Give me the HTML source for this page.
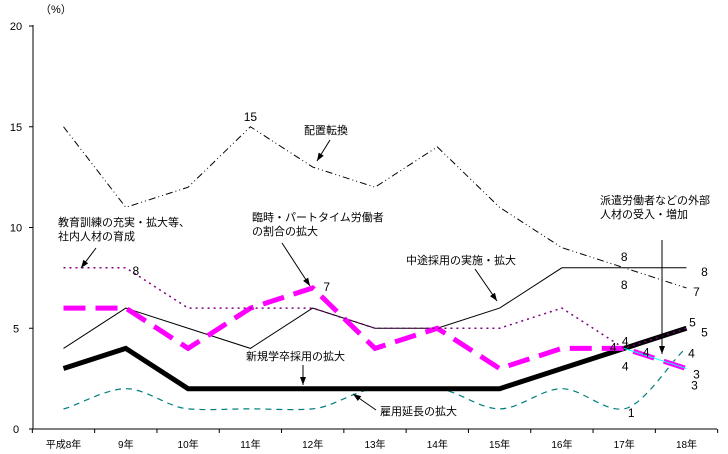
<!DOCTYPE html>
<html><head><meta charset="utf-8"><style>
body{margin:0;background:#fff}
svg{display:block;font-family:"Liberation Sans","Noto Sans CJK JP",sans-serif}
</style></head><body>
<svg id="c" width="728" height="454">
</svg>
<script>
const categories=["平成8年","9年","10年","11年","12年","13年","14年","15年","16年","17年","18年"];
const yTicks=[0,5,10,15,20];
const haichi=[15,11,12,15,13,12,14,11,9,8,7];
const shinki=[3,4,2,2,2,2,2,2,3,4,5];
const chuto=[4,6,5,4,6,5,5,6,8,8,8];
const rinji=[6,6,4,6,7,4,5,3,4,4,3];
const kyoiku=[8,8,6,6,6,5,5,5,6,4,5];
const koyo=[1,2,1,1,1,2,2,1,2,1,4];
const haken=[null,null,null,null,null,null,null,null,null,4,3];
const NS="http://www.w3.org/2000/svg";
const svg=document.getElementById('c');
const X=i=>63.5+i*62.3;
const Y=v=>429-v*20.15;
function el(t,a,p){const e=document.createElementNS(NS,t);for(const k in a)e.setAttribute(k,a[k]);(p||svg).appendChild(e);return e;}
function txt(x,y,s,size,anchor){const t=el('text',{x:x,y:y,'font-size':size||11,'text-anchor':anchor||'start',fill:'#000'});t.textContent=s;return t;}
const ax=el('g',{});


el('line',{x1:33,y1:25,x2:33,y2:429,stroke:'#000'},ax);
el('line',{x1:33,y1:429,x2:717,y2:429,stroke:'#000'},ax);
yTicks.forEach(v=>{el('line',{x1:29,y1:Y(v),x2:33,y2:Y(v),stroke:'#000'},ax);const t=txt(16,Y(v)+4,String(v),11,'middle');});
for(let i=0;i<=categories.length;i++){const x=X(i)-31.15;el('line',{x1:x,y1:429,x2:x,y2:433,stroke:'#000'},ax);}
categories.forEach((c,i)=>{const t=txt(X(i),448,c,10,'middle');});
const pu=txt(40,13,'（%）',11,'start');
function line(data,attrs,name,smooth){
  let pts=[];data.forEach((v,i)=>{if(v!=null)pts.push([X(i),Y(v)]);});
  let d;
  if(smooth){d='M'+pts[0];for(let i=0;i<pts.length-1;i++){const p0=pts[Math.max(0,i-1)],p1=pts[i],p2=pts[i+1],p3=pts[Math.min(pts.length-1,i+2)];const c1=[p1[0]+(p2[0]-p0[0])/6,p1[1]+(p2[1]-p0[1])/12],c2=[p2[0]-(p3[0]-p1[0])/6,p2[1]-(p3[1]-p1[1])/12];d+=' C'+c1+' '+c2+' '+p2;}}
  else d='M'+pts.map(p=>p.join(',')).join(' L');
  const p=el('path',Object.assign({d:d,fill:'none'},attrs));
  
  
}
line(haichi,{stroke:'#000','stroke-width':1,'stroke-dasharray':'7,3,1,3,1,3'},'series-haichi-tenkan');
line(chuto,{stroke:'#000','stroke-width':1},'series-chuto-saiyo');
line(koyo,{stroke:'#008080','stroke-width':1.2,'stroke-dasharray':'6,5'},'series-koyo-encho',true);
line(shinki,{stroke:'#000','stroke-width':5},'series-shinki-gakusotsu');
line(rinji,{stroke:'#ff00ff','stroke-width':5,'stroke-dasharray':'22,10'},'series-rinji-part');
line(kyoiku,{stroke:'#800080','stroke-width':1.5,'stroke-dasharray':'2,4'},'series-kyoiku-kunren');
line(haken,{stroke:'#00ffff','stroke-width':1},'series-haken');
const vl=[[X(1)+10,Y(8)+3,'8'],[X(3),Y(15)-10,'15'],[X(4)+14,Y(7)-1,'7'],[X(9),Y(8)-11,'8'],[X(9),Y(8)+17,'8'],[X(10)+18,Y(8)+4,'8'],[X(10)+10,Y(7)+4,'7'],
[X(10)+6,Y(5)-6,'5'],[X(10)+18,Y(5)+4,'5'],[X(9)-11,Y(4)-1,'4'],[X(9)+1,Y(4)-7,'4'],[X(9)+22,Y(4)+4,'4'],[X(9)+1,Y(4)+18,'4'],
[X(10)+5,Y(4)+5,'4'],[X(10)+10,Y(3)+6,'3'],[X(10)+8,Y(3)+17,'3'],[X(9)+7,Y(1)+4,'1']];
vl.forEach(a=>{const t=txt(a[0],a[1]+4,a[2],12,'middle');});
function ann(lines,x,y,name){lines.forEach((s,i)=>{const t=txt(x,y+i*14,s,11);});}
function arrow(x1,y1,x2,y2){const a=el('line',{x1:x1,y1:y1,x2:x2,y2:y2,stroke:'#000','stroke-width':1});const ang=Math.atan2(y2-y1,x2-x1);const h=el('path',{d:`M${x2},${y2} L${x2-8*Math.cos(ang)+3*Math.sin(ang)},${y2-8*Math.sin(ang)-3*Math.cos(ang)} L${x2-8*Math.cos(ang)-3*Math.sin(ang)},${y2-8*Math.sin(ang)+3*Math.cos(ang)}z`,fill:'#000'});}
ann(['配置転換'],304,134,'label-haichi-tenkan');arrow(330,140,317,161);
ann(['教育訓練の充実・拡大等、','社内人材の育成'],58,226,'label-kyoiku-kunren');arrow(96,248,81,268);
ann(['臨時・パートタイム労働者','の割合の拡大'],252,221,'label-rinji-part');arrow(282,243,310,286);
ann(['中途採用の実施・拡大'],406,264,'label-chuto-saiyo');arrow(475,269,497,301);
ann(['新規学卒採用の拡大'],246,360,'label-shinki-gakusotsu');arrow(303,365,303,385);
ann(['雇用延長の拡大'],380,415,'label-koyo-encho');arrow(376,410,353,394);
ann(['派遣労働者などの外部','人材の受入・増加'],600,204,'label-haken');arrow(662,240,662,354);
</script>
</body></html>
